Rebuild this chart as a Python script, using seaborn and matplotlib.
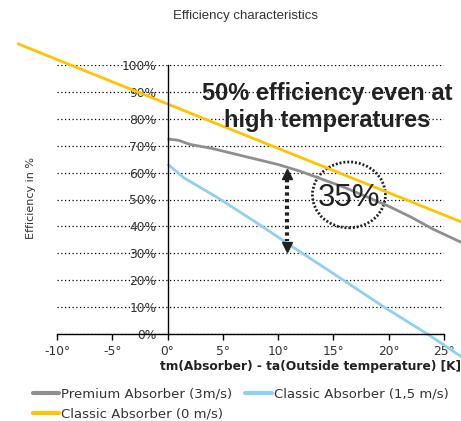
import matplotlib
matplotlib.use("Agg")
import matplotlib.pyplot as plt
import seaborn as sns
import pandas as pd
from matplotlib.patches import Ellipse
from matplotlib.lines import Line2D

# ---- data ----
premium_x = [0, 1, 2, 4, 6, 8, 10, 12, 14, 16, 18, 20, 22, 24, 26.6]
premium_y = [72.5, 72, 70.5, 69, 67, 65, 63, 60.5, 57.5, 54.5, 51, 47.5, 43.5, 39, 34]

classic15_x = [0, 1.5, 4.6, 8, 11.6, 14.8, 19.7, 23.5, 26.6]
classic15_y = [63.2, 58, 50.5, 41.5, 31.6, 23, 9.7, 0, -8.5]

classic0_x = [-13.6, -8.9, 0, 10, 20, 26.6]
classic0_y = [108, 100.2, 85.5, 69, 52.5, 41.6]

series_names = ["Premium Absorber (3m/s)", "Classic Absorber (1,5 m/s)", "Classic Absorber (0 m/s)"]
colors = {"Premium Absorber (3m/s)": "#8F8F8F",
          "Classic Absorber (1,5 m/s)": "#8ED1F2",
          "Classic Absorber (0 m/s)": "#FFC400"}

x_ticks = [-10, -5, 0, 5, 10, 15, 20, 25]
x_tick_labels = ["-10°", "-5°", "0°", "5°", "10°", "15°", "20°", "25°"]
y_ticks = list(range(0, 101, 10))
y_tick_labels = [f"{v}%" for v in y_ticks]

title = "Efficiency characteristics"
xlabel = "tm(Absorber) - ta(Outside temperature) [K]"
ylabel = "Efficiency in %"
headline = "50% efficiency even at\nhigh temperatures"
gap_label = "35%"

df = pd.concat([
    pd.DataFrame({"x": premium_x, "y": premium_y, "series": series_names[0]}),
    pd.DataFrame({"x": classic15_x, "y": classic15_y, "series": series_names[1]}),
    pd.DataFrame({"x": classic0_x, "y": classic0_y, "series": series_names[2]}),
])

sns.set_style("white")
plt.rcParams["font.family"] = ["DejaVu Sans"]

fig = plt.figure(figsize=(4.61, 4.21), dpi=100)
ax = fig.add_axes([57/461, 1-334/421, (444-57)/461, (334-65)/421])

sns.lineplot(data=df, x="x", y="y", hue="series", palette=colors,
             hue_order=series_names, sort=False, estimator=None, ax=ax,
             legend=False, linewidth=2)
for ln in ax.get_lines():
    ln.set_clip_on(False)
    ln.set_solid_capstyle("butt")

ax.set_xlim(-10, 25)
ax.set_ylim(0, 100)

# grid
ax.set_yticks(y_ticks)
ax.set_yticklabels(y_tick_labels)
ax.set_xticks(x_ticks)
ax.set_xticklabels(x_tick_labels)
ax.yaxis.grid(True, linestyle=(0, (1, 2)), color="black", linewidth=0.9)
ax.xaxis.grid(False)
ax.set_axisbelow(True)

for s in ["top", "right"]:
    ax.spines[s].set_visible(False)
ax.spines["left"].set_position(("data", 0))
ax.spines["left"].set_color("black")
ax.spines["bottom"].set_color("black")
ax.spines["left"].set_linewidth(1.0)
ax.spines["bottom"].set_linewidth(1.0)

ax.tick_params(axis="y", length=0, pad=8, labelsize=8.8, labelcolor="#333333")
ax.tick_params(axis="x", direction="out", length=4, width=1, color="black",
               pad=4, labelsize=8.8, labelcolor="#333333", bottom=True)

ax.set_xlabel(xlabel, fontsize=8.8, fontweight="bold", color="#222222", loc="right")
ax.xaxis.set_label_coords((461-57)/387, (334-360)/269)
ax.xaxis.label.set_ha("right")
ax.set_ylabel(ylabel, fontsize=8, color="#333333")
ax.yaxis.set_label_coords(-0.055, 0.506)

fig.text(245/461, 1-16/421, title, ha="center", va="center", fontsize=9.5,
         color="#333333", family="Liberation Sans")

ax.text(14.4, 84.4, headline, ha="center", va="center", fontsize=17,
        fontweight="bold", color="#222222", family="Liberation Sans",
        linespacing=1.2)

# gap arrow
arrow_x, arrow_top, arrow_bot = 10.8, 59.5, 32.5
ax.plot([arrow_x, arrow_x], [arrow_top - 2, arrow_bot + 2], color="#222222",
        linewidth=3, linestyle=(0, (0.8, 0.8)))
ax.plot([arrow_x], [arrow_top], marker="^", color="#222222", markersize=7)
ax.plot([arrow_x], [arrow_bot], marker="v", color="#222222", markersize=7)

# dotted circle
ax.add_patch(Ellipse((16.4, 51.7), 6.6, 24.5, fill=False, edgecolor="#222222",
                     linewidth=2, linestyle=(0, (0.7, 0.7))))
ax.text(16.4, 50.5, gap_label, ha="center", va="center", fontsize=22.5,
        color="#222222", family="Liberation Sans")

# legend
handles = [Line2D([], [], color=colors[n], linewidth=3) for n in
           [series_names[0], series_names[2], series_names[1]]]
labels = [series_names[0], series_names[2], series_names[1]]
fig.legend(handles, labels, loc="upper left", bbox_to_anchor=(26/461, 1-381/421),
           ncol=2, frameon=False, fontsize=9.5, handlelength=2.0,
           handletextpad=0.15, columnspacing=1.0, labelspacing=0.55,
           borderpad=0, labelcolor="#333333")

fig.savefig("out.png", dpi=100)
